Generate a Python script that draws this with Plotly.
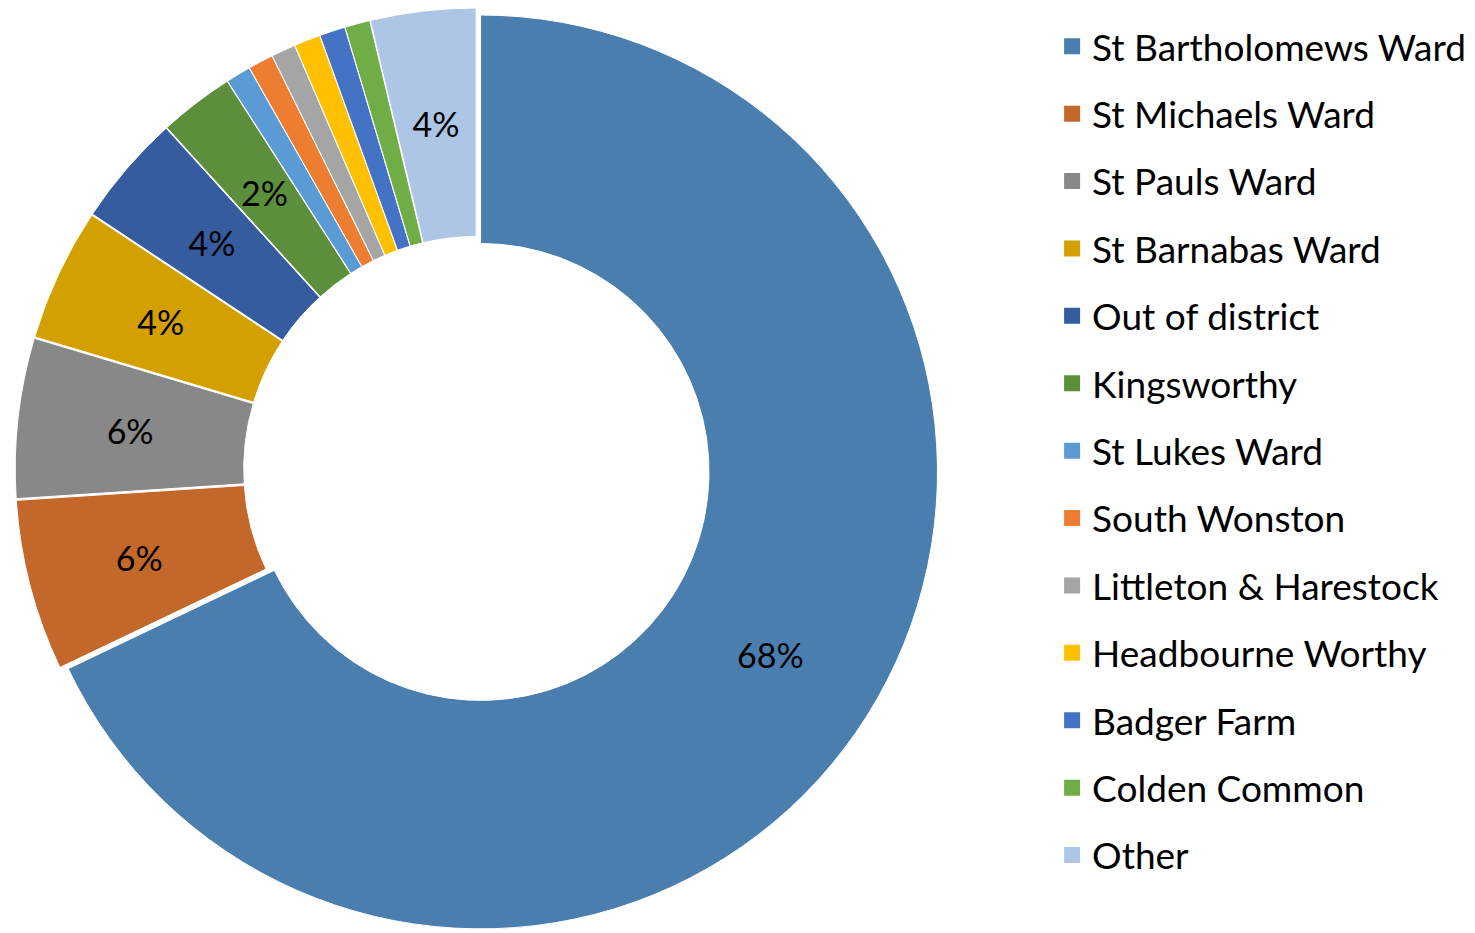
import math
import plotly.graph_objects as go

labels = ["St Bartholomews Ward", "St Michaels Ward", "St Pauls Ward", "St Barnabas Ward",
          "Out of district", "Kingsworthy", "St Lukes Ward", "South Wonston",
          "Littleton & Harestock", "Headbourne Worthy", "Badger Farm", "Colden Common", "Other"]
values = [67.9, 6.05, 5.65, 4.7, 3.95, 2.65, 0.88, 0.89, 0.86, 0.93, 0.91, 0.89, 3.72]
# percentage labels as printed on the chart (split by which layer places them)
main_text = ["68%", "", "", "", "", "", "", "", "", "", "", "", ""]
ring_text = ["", "6%", "", "4%", "4%", "2%", "", "", "", "", "", "", "4%"]
side_text = ["", "", "6%", "", "", "", "", "", "", "", "", "", ""]
colors = ["#4A7EAF", "#C4672A", "#888888", "#D4A000", "#365CA0", "#5B8F3B",
          "#5B9BD5", "#ED7D31", "#A5A5A5", "#FFC000", "#4472C4", "#70AD47", "#AEC6E6"]

FONT = "Lato"
W, H = 1467, 925

# layout geometry (pixels in figure coordinates)
CX, CY = 468.7, 461.5          # pie centre
HALF = 461.5                   # half size of main pie domain
PULL = 0.01
R_MAIN = HALF / (1 + PULL)
LABEL_R = 0.75 * R_MAIN + 1.5  # labels sit at the middle of the ring
RING2 = 0.15
R2 = LABEL_R / (1 - RING2 / 2)

# radius for the layer carrying the St Pauls label (inscribed-circle placement)
total = sum(values)
side_idx = [i for i, t in enumerate(side_text) if t][0]
s_half = math.sin(math.pi * values[side_idx] / total)
R3 = LABEL_R / (1 - s_half / (1 + s_half))


def dom(cx, cy, half):
    return dict(x=[(cx - half) / W, (cx + half) / W],
                y=[max(0.0, (H - cy - half) / H), min(1.0, (H - cy + half) / H)])


def label_layer(text, r, hole):
    pull = PULL * R_MAIN / r
    return go.Pie(
        labels=labels, values=values, text=text, textinfo="text",
        hole=hole, sort=False, direction="clockwise", rotation=0,
        pull=pull,
        marker=dict(colors=["rgba(0,0,0,0)"] * len(values), line=dict(width=0)),
        textposition="inside", insidetextorientation="horizontal",
        textfont=dict(family=FONT, size=34, color="black"),
        domain=dom(CX, CY, r * (1 + pull)),
        showlegend=False, hoverinfo="skip",
    )


fig = go.Figure()
fig.add_trace(go.Pie(
    labels=labels, values=values, text=main_text, textinfo="text",
    hole=0.5, sort=False, direction="clockwise", rotation=0,
    pull=PULL,
    marker=dict(colors=colors, line=dict(color="white", width=1)),
    textposition="inside", insidetextorientation="horizontal",
    textfont=dict(family=FONT, size=34, color="black"),
    domain=dom(CX, CY, HALF),
    showlegend=False, hoverinfo="label+percent",
))
fig.add_trace(label_layer(ring_text, R2, 1 - RING2))
fig.add_trace(label_layer(side_text, R3, 0.5))

for lab, col in zip(labels, colors):
    fig.add_trace(go.Scatter(
        x=[None], y=[None], mode="markers", name=lab, legendgroup=lab,
        marker=dict(symbol="square", size=16, color=col),
        showlegend=True, hoverinfo="skip",
    ))

fig.update_layout(
    width=W, height=H,
    margin=dict(l=0, r=0, t=0, b=0),
    paper_bgcolor="white", plot_bgcolor="white",
    xaxis=dict(visible=False), yaxis=dict(visible=False),
    uniformtext=dict(minsize=34, mode="show"),
    legend=dict(x=0.71173, y=0.99168, xanchor="left", yanchor="top",
                font=dict(family=FONT, size=37, color="black"),
                tracegroupgap=16.3, bgcolor="rgba(0,0,0,0)"),
    font=dict(family=FONT),
)

fig.write_html("out.html")
